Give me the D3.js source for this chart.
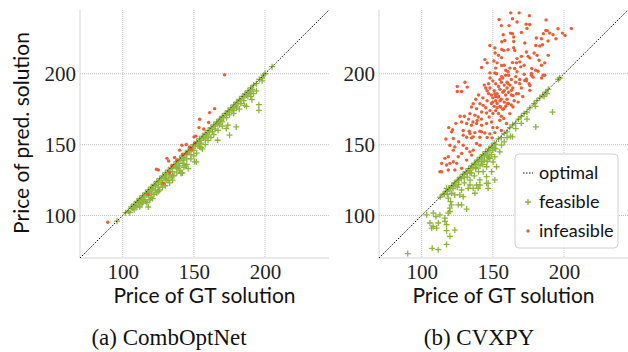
<!DOCTYPE html>
<html>
<head>
<meta charset="utf-8">
<script src="https://cdn.jsdelivr.net/npm/d3@7"></script>
<style>
  html, body { margin: 0; padding: 0; background: #fff; }
  svg { display: block; }
</style>
</head>
<body>
<svg id="chart"></svg>
<script>
// tick values and axis limits shared by both panels
const ticks = [100, 150, 200];
const limits = [70, 245];

// (a) CombOptNet : [GT price, predicted price]
const combFeasible = [
  [96,96],[102,102],[104,103],[106,106],[107,105],[108,108],[109,107],[110,110],[111,109],[112,112],
  [113,111],[114,114],[115,113],[116,116],[117,115],[118,118],[119,117],[120,120],[121,119],[122,122],
  [123,121],[124,124],[125,123],[126,126],[127,125],[128,128],[129,127],[130,130],[131,129],[132,132],
  [133,131],[134,134],[135,133],[136,136],[137,135],[138,138],[139,137],[140,140],[141,139],[142,142],
  [143,141],[144,144],[145,143],[146,146],[147,145],[148,148],[149,147],[150,150],[151,149],[152,152],
  [153,151],[154,154],[155,153],[156,156],[157,155],[158,158],[159,157],[160,160],[161,159],[162,162],
  [163,161],[164,164],[165,163],[166,166],[167,165],[168,168],[169,167],[170,170],[171,169],[172,172],
  [173,171],[174,174],[175,173],[176,176],[177,175],[178,178],[179,177],[180,180],[181,179],[182,182],
  [183,181],[184,184],[185,183],[186,186],[187,185],[188,188],[189,187],[190,190],[191,189],[192,192],
  [194,193],[196,196],[198,197],[199,199],[200,200],[205,205],
  [105,102],[110,106],[115,111],[120,116],[125,120],[130,126],[135,131],[140,135],[145,140],[150,146],
  [155,151],[160,156],[165,161],[170,166],[175,171],[180,176],[185,181],[190,186],[113,108],[118,114],
  [123,118],[128,123],[133,128],[138,134],[143,139],[148,143],[153,149],[158,154],[163,159],[168,164],
  [173,169],[178,174],[183,179],[188,184],
  [108,104],[112,106],[114,109],[116,110],[119,111],[118,106],[120,113],[122,115],[124,116],[121,112],
  [126,118],[128,120],[130,121],[127,122],[132,125],[134,127],[133,123],[136,128],[138,130],[135,125],
  [140,132],[142,130],[141,129.8],[143,134],[145,136],[146,133],[148,140],[150,142],[151.8,137.9],[152,144],
  [155,148],[156,147],[158,150],[160,153],[162,155],[164,157],[166.7,153.1],[167,160],[170,163],[172.8,161.3],
  [173.9,163.7],[175.1,156.7],[178,172],[179.8,162.5],[182,175],[185.7,177.7],[187,177],[190,184],[190.8,181.7],
  [192,186],[195.7,174.2],[195.7,178.2],[194,188],[198,195],[154.1,148.4],[144,135],[139,133],[131,125],
  [125,117],[117,109],[135.1,128.4],[141.2,129.8],[119,111],[112,111],[107.2,105.2],[142.3,136.8],[150.6,137.9]
];
const combInfeasible = [
  [89.5,95.2],[117.8,115],[123.7,132.6],[125.1,132.1],[128.8,122.7],[131.1,140.3],[132.3,138.4],[133,130.2],
  [134.6,135.1],[136.5,141],[140,146.1],[141.6,149.6],[144.7,150.1],[147,148.4],[148.2,146.8],[150.1,155.5],
  [151.3,156],[153.6,162],[154.1,167.9],[160.4,165.6],[161.1,172.6],[164.6,175.4],[171.6,199.3],[157,161],
  [145,144],[138,139],[150.5,151],[142,143]
];

// (b) CVXPY
const cvxFeasible = [
  [113,113],[115,115],[116,115],[117,117],[118,117],[119,119],[120,119],[121,121],[122,121],[123,123],
  [124,122],[125,125],[126,125],[127,127],[128,126],[129,129],[130,129],[131,131],[132,130],[133,133],
  [134,132],[135,135],[136,134],[137,137],[138,136],[139,139],[140,138],[141,141],[142,140],[143,143],
  [144,142],[145,145],[146,144],[147,147],[148,146],[149,149],[150,148],[151,151],[152,150],[154,154],
  [156,155],[158,158],[160,159],[162,162],[164,164],[166,165],[168,168],[170,170],[172,172],[174,173],
  [176,176],[179,179],[181,181],[183,183],[185,185],[187,187],[189,189],[196,196],[197,197],
  [118,115],[122,119],[126,122],[130,127],[134,130],[138,134],[142,138],[146,142],[150,146],[152,147],
  [162.4,156],[156.1,149.6],[151.4,147.3],[154.9,144.9],[151.4,141.4],[147.9,140.3],[150.2,137.9],[152.6,134.4],
  [145.6,134.4],[149.1,130.9],[143.2,130.9],[145.6,127.4],[151.4,125.1],[140.9,125.1],[146.7,122.7],[138.6,121.5],
  [136.2,119.2],[139.7,119.2],[90.2,73.1],[107.4,76.8],[111.6,75.9],[117.5,79.6],[119.8,85.3],[123.3,89.7],
  [117.5,89.3],[105.8,94.7],[108.1,92.3],[110.5,91.1],[107,91.1],[111.7,94.7],[116.3,95.8],[117.5,93.5],
  [103.5,100.5],[108.1,101.7],[110,99.3],[112.8,100.5],[116.3,98.2],[118.7,101.7],[119.8,102.8],[119.8,105.2],
  [121,107.5],[120.3,109.8],[118.7,112.2],[123.3,114.5],[126.8,114.5],[129.2,113.3],[125.7,107.5],[128,107.5],
  [131.6,104.5],[117.5,119.2],[121,115.7],[132.7,119.2],[137.4,115.7],[133.9,121.5],[140.9,121.5],[145.6,122.7],
  [146.7,119.2],[191.9,173],[180.2,162.5],[163.8,155.5],[166.1,161.3],[130,123],[134,125],[137,128],[140,131],
  [143,136],[146,138],[149,143],[128,118],[125,120],[158,152],[160,155],[170,165],[174,168],[180,177],
  [186,184],[188,186],[132,127],[135,130],[138,133],[141,135],[144,139],[147,141]
];
const cvxInfeasible = [
  [162.6,243],[168.5,243],[154.4,238.3],[175.7,241],[163.8,238.8],[167,236.5],[156,234],[161.4,234],[173.4,235],
  [175.9,234.8],[187.4,238],[174,232],[195.8,231.8],[205.2,232],[187.2,230.6],[188.3,230.4],[185.5,228.3],[190,228.7],
  [192.3,227.5],[198.9,228.7],[200.7,227],[194.4,224.7],[157.3,227.5],[162.4,228.7],[163.8,228.3],[170.1,229.2],
  [164.7,226],[158.4,223.5],[156.3,222.6],[164.7,222.8],[180.6,225.2],[184.2,224.7],[188.8,223.1],[180.2,220],
  [183,219.6],[184.9,220.5],[164.7,218.4],[147.9,220],[151.4,218.2],[156.3,217.2],[157.7,216.5],[160.7,217],
  [165.4,216.5],[173.6,215.4],[179,214.7],[189,213],[151.6,214.7],[154,213],[156.1,211.4],[170.1,212.3],
  [174.8,212.3],[176,211.2],[181.1,213],[182.5,209.5],[186.5,207.7],[144.4,210],[146,207.7],[142.1,204.4],
  [150.7,209.1],[153,207.7],[156.1,205.8],[163.8,207.9],[166.6,207.7],[168.9,208.4],[169.6,204.9],[165.4,203.7],
  [172,206],[177.4,203.7],[180.2,202.5],[181.8,201.8],[184.2,206],[159.1,202.5],[160.7,201.4],[167,201.4],
  [172,199.7],[177.1,200.2],[186.5,199],[147.9,200.6],[151.4,200.6],[172.5,221.7],[167,210.7],
  [125,191],[130.4,194],[132,190.6],[125,187.5],[128,187.5],
  [152.6,200],[156.1,198],[161,199],[166.1,198],[168.9,196],[173.6,195],[177.1,199],[184.2,197],
  [150,195],[152,193],[154,191],[156,194],[158,192],[160,190],[151,188],[153,186],[155,189],[157,187],
  [159,185],[161,187],[150,183],[152,181],[154,184],[156,182],[158,180],[160,182],[149,179],[151,177],
  [153,179],[155,177],[157,175],[159,177],[148,174],[150,172],[152,174],[154,172],[156,170],[162,192],
  [163,185],[161,179],[164,190],[147,186],[146,181],[148,190],[145,176],[150,180],[152,184],[155,181],
  [153,176],[149,185],[158,188],[160,194],[163,196],[157,197],[155,196],[159,199],[147,193],[145,190],
  [136.2,178.9],[135,176.5],[138.6,175.4],[140.9,178.9],[143.2,177.7],[133.9,171.9],[137.4,170.7],[139.7,169.5],
  [142.1,173],[145.6,172.3],[147.4,169.5],[128,166],[131.6,164.9],[135,163.7],[138.6,164.9],[142.1,163.7],
  [145.6,164.9],[149.1,166],[121.7,160.5],[129.2,160],[133.4,159.5],[137.4,158.5],[140.9,159.5],[144.4,158.2],
  [147.9,157.6],[151.4,158.5],[131.6,155.2],[135,154.8],[140.9,155.2],[146,155],[149.5,154.8],
  [166.6,185.9],[167.8,180],[164.2,176.5],[161.9,171.9],[157.7,168.4],[159.6,164.9],[154.9,167.2],[168.9,193],
  [172.4,195.3],[175.5,193],[176,188.3],[173.6,196.4],[176,191.7],[178.3,197.6],[185.3,199],[160.7,193],
  [163.1,188.3],[164.2,184.7],[151.4,185.9],[153.7,183.5],[155.4,176.5],[157.7,175.4],[160,178.9],
  [121,159],[122.2,154.3],[129.2,156.7],[133.9,157.8],[136.2,155.5],[142.1,159],[119.8,149.6],[123.3,148.4],
  [122.2,146.1],[129.2,149.6],[131.6,147.3],[128.1,143.8],[133.9,144.9],[136.2,146.1],[140.9,149.6],[138.6,150.8],
  [114,136.8],[117.5,135.6],[119.8,136.8],[122.2,137.9],[124.6,136.8],[125.7,141.4],[116.3,140.3],[114,130.9],
  [118.7,132.1],[128.1,133.3],[123.3,132.1],[131.6,139.1],[135.1,142.6],[112.8,130.9],[118.7,141.4],
  [143,183],[146,188],[140,185],[138,182],[144,192],[148,197],[152,204],[158,206],[162,204],[166,194],
  [170,190],[168,186],[171,184],[165,181],[163,178],[139,167],[142,168],[136,166],[133,168],[130,170],
  [127,170],[124,165],[119,162],[117,154],[126,152],[156,160],[153,162],[150,162]
];

const W = 628, H = 352;
const green = '#8db53c';
const red = '#ef5c33';
const sans = 'Lato, "DejaVu Sans", sans-serif';
const serif = '"Liberation Serif", "DejaVu Serif", serif';

const svg = d3.select('#chart')
  .attr('width', W)
  .attr('height', H)
  .attr('viewBox', [0, 0, W, H]);

const panels = [
  { left: 80, feasible: combFeasible, infeasible: combInfeasible, caption: '(a) CombOptNet', capX: 169, yLabel: true, legend: false },
  { left: 379, feasible: cvxFeasible, infeasible: cvxInfeasible, caption: '(b) CVXPY', capX: 479, yLabel: false, legend: true }
];

const plotTop = 10, plotBottom = 258, plotSize = 249;

const plusPath = (s) => `M${-s},0H${s}M0,${-s}V${s}`;

panels.forEach((p) => {
  const x = d3.scaleLinear().domain(limits).range([p.left, p.left + plotSize]);
  const y = d3.scaleLinear().domain(limits).range([plotBottom, plotTop]);
  const g = svg.append('g');

  // grid
  g.append('g')
    .selectAll('line')
    .data(ticks)
    .join('line')
    .attr('x1', (d) => x(d)).attr('x2', (d) => x(d))
    .attr('y1', plotTop).attr('y2', plotBottom)
    .attr('stroke', '#b5b5b5').attr('stroke-width', 0.8).attr('stroke-dasharray', '1,1');
  g.append('g')
    .selectAll('line')
    .data(ticks)
    .join('line')
    .attr('y1', (d) => y(d)).attr('y2', (d) => y(d))
    .attr('x1', p.left).attr('x2', p.left + plotSize)
    .attr('stroke', '#b5b5b5').attr('stroke-width', 0.8).attr('stroke-dasharray', '1,1');

  // spines (left + bottom only)
  g.append('line')
    .attr('x1', p.left).attr('x2', p.left).attr('y1', plotTop).attr('y2', plotBottom)
    .attr('stroke', '#d4d4d4').attr('stroke-width', 1);
  g.append('line')
    .attr('x1', p.left).attr('x2', p.left + plotSize).attr('y1', plotBottom).attr('y2', plotBottom)
    .attr('stroke', '#d4d4d4').attr('stroke-width', 1);

  // axes (labels only, no tick marks)
  const gx = g.append('g')
    .attr('transform', `translate(0,${plotBottom})`)
    .call(d3.axisBottom(x).tickValues(ticks).tickSize(0).tickPadding(6))
    .call((a) => a.select('.domain').remove());
  gx.selectAll('text')
    .attr('font-family', serif).attr('font-size', 21).attr('fill', '#222');

  const gy = g.append('g')
    .attr('transform', `translate(${p.left},0)`)
    .call(d3.axisLeft(y).tickValues(ticks).tickSize(0).tickPadding(4))
    .call((a) => a.select('.domain').remove());
  gy.selectAll('text')
    .attr('font-family', serif).attr('font-size', 21).attr('fill', '#222');

  // markers
  g.append('g')
    .selectAll('path')
    .data(p.feasible)
    .join('path')
    .attr('transform', (d) => `translate(${x(d[0])},${y(d[1])})`)
    .attr('d', plusPath(3))
    .attr('stroke', green).attr('stroke-width', 1.3).attr('fill', 'none');

  g.append('g')
    .selectAll('circle')
    .data(p.infeasible)
    .join('circle')
    .attr('cx', (d) => x(d[0]))
    .attr('cy', (d) => y(d[1]))
    .attr('r', 1.7)
    .attr('fill', red);

  // optimal diagonal
  g.append('line')
    .attr('x1', x(limits[0])).attr('y1', y(limits[0]))
    .attr('x2', x(limits[1])).attr('y2', y(limits[1]))
    .attr('stroke', '#111').attr('stroke-width', 1).attr('stroke-dasharray', '1.5,1.5');

  // labels
  g.append('text')
    .attr('x', p.left + plotSize / 2).attr('y', 303)
    .attr('text-anchor', 'middle')
    .attr('font-family', sans).attr('font-size', 21).attr('fill', '#111')
    .text('Price of GT solution');

  if (p.yLabel) {
    g.append('text')
      .attr('transform', `translate(29,133) rotate(-90)`)
      .attr('text-anchor', 'middle')
      .attr('font-family', sans).attr('font-size', 21).attr('fill', '#111')
      .text('Price of pred. solution');
  }

  g.append('text')
    .attr('x', p.capX).attr('y', 345)
    .attr('text-anchor', 'middle')
    .attr('font-family', serif).attr('font-size', 23).attr('fill', '#111')
    .text(p.caption);

  if (p.legend) {
    const lg = g.append('g').attr('transform', 'translate(515,154)');
    lg.append('rect')
      .attr('width', 103).attr('height', 94).attr('rx', 4)
      .attr('fill', 'rgba(255,255,255,0.85)')
      .attr('stroke', '#d0d0d0').attr('stroke-width', 1);
    const items = ['optimal', 'feasible', 'infeasible'];
    items.forEach((name, i) => {
      const cy = 19 + i * 29;
      if (i === 0) {
        lg.append('line')
          .attr('x1', 8).attr('x2', 18).attr('y1', cy).attr('y2', cy)
          .attr('stroke', '#111').attr('stroke-width', 1).attr('stroke-dasharray', '1.5,1.5');
      } else if (i === 1) {
        lg.append('path')
          .attr('transform', `translate(13,${cy})`)
          .attr('d', plusPath(3))
          .attr('stroke', green).attr('stroke-width', 1.3).attr('fill', 'none');
      } else {
        lg.append('circle')
          .attr('cx', 13).attr('cy', cy).attr('r', 1.7).attr('fill', red);
      }
      lg.append('text')
        .attr('x', 24).attr('y', cy)
        .attr('dy', '0.35em')
        .attr('font-family', sans).attr('font-size', 18).attr('fill', '#111')
        .text(name);
    });
  }
});
</script>
</body>
</html>
